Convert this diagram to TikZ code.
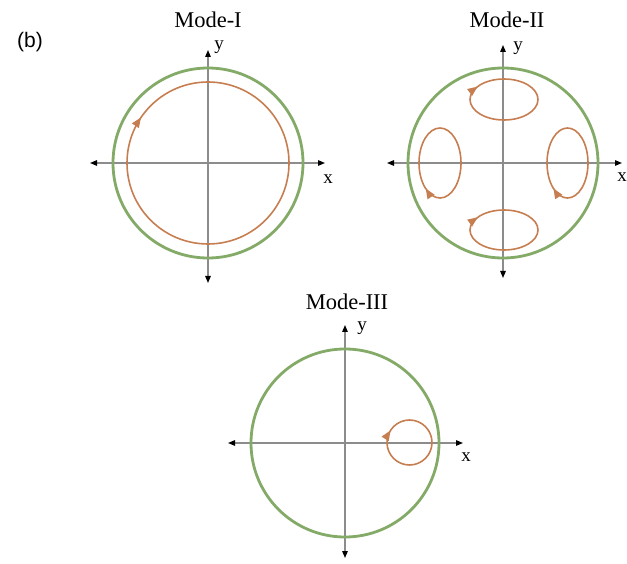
\documentclass[tikz,border=0pt]{standalone}
\usepackage{fontspec}
\setmainfont{Liberation Serif}
\newfontfamily\panelfont{Liberation Sans}
\usetikzlibrary{arrows.meta,decorations.markings}
\definecolor{modegreen}{RGB}{132,170,104}
\definecolor{modeorange}{RGB}{198,126,80}
\definecolor{axisgrey}{RGB}{140,140,140}

\begin{document}
\begin{tikzpicture}[x=1pt, y=1pt,
    axis/.style={draw=axisgrey, line width=1.2pt,
                 {Triangle[length=7pt,width=5.5pt,color=black]}-{Triangle[length=7pt,width=5.5pt,color=black]}},
    wall/.style={draw=modegreen, line width=2.8pt},
    flow/.style={draw=modeorange, line width=1.6pt},
    flowtip/.style={postaction={decorate}, decoration={markings,
                 mark=at position #1 with {\arrow{Triangle[length=10pt,width=8pt,color=modeorange]}}}},
    title/.style={font=\fontsize{22.5}{24}\selectfont},
    axlabel/.style={font=\fontsize{19}{21}\selectfont, inner sep=0pt},
  ]
  \useasboundingbox (0,0) rectangle (627,-564);

  % panel label
  \node[font=\panelfont\fontsize{21}{23}\selectfont] (panel) at (30,-42) {(b)};

  % Mode-I
  \begin{scope}[shift={(208,-163)}]
    \coordinate (IW) at (-118,0); \coordinate (IE) at (117,0);
    \coordinate (IS) at (0,-120); \coordinate (IN) at (0,113);
    \draw[axis] (IW) -- (IE);
    \draw[axis] (IS) -- (IN);
    \draw[wall] (0,0) circle[radius=95];
    \draw[flow, flowtip=0.595] (81,0) arc[start angle=0, end angle=-360, radius=81];
    \node[title] (modeI) at (0,143) {Mode-I};
    \node[axlabel] (yI) at (11,116) {y};
    \node[axlabel] (xI) at (120,-16) {x};
  \end{scope}

  % Mode-II
  \begin{scope}[shift={(503,-163)}]
    \coordinate (IIW) at (-116,0); \coordinate (IIE) at (119,0);
    \coordinate (IIS) at (0,-115); \coordinate (IIN) at (0,118);
    \draw[axis] (IIW) -- (IIE);
    \draw[axis] (IIS) -- (IIN);
    \draw[wall] (0,0) circle[radius=95];
    % top and bottom cells
    \draw[flow, flowtip=0.59] (35,63.5) arc[start angle=0, end angle=-360, x radius=34, y radius=20.5];
    \draw[flow, flowtip=0.59] (35,-67) arc[start angle=0, end angle=-360, x radius=34, y radius=20];
    % left and right cells
    \draw[flow, flowtip=0.35] (-42,0) arc[start angle=0, end angle=-360, x radius=21, y radius=35];
    \draw[flow, flowtip=0.35] (85,0) arc[start angle=0, end angle=-360, x radius=20.5, y radius=35];
    \node[title] (modeII) at (4,143) {Mode-II};
    \node[axlabel] (yII) at (15,115) {y};
    \node[axlabel] (xII) at (119,-14) {x};
  \end{scope}

  % Mode-III
  \begin{scope}[shift={(345,-443)}]
    \coordinate (IIIW) at (-117,0); \coordinate (IIIE) at (118,0);
    \coordinate (IIIS) at (0,-115); \coordinate (IIIN) at (0,118);
    \draw[axis] (IIIW) -- (IIIE);
    \draw[axis] (IIIS) -- (IIIN);
    \draw[wall] (0,0) circle[radius=94];
    \draw[flow, flowtip=0.59] (87,0.5) arc[start angle=0, end angle=-360, radius=22.5];
    \node[title] (modeIII) at (2,141) {Mode-III};
    \node[axlabel] (yIII) at (17,115) {y};
    \node[axlabel] (xIII) at (121,-14) {x};
  \end{scope}
\end{tikzpicture}
\end{document}
